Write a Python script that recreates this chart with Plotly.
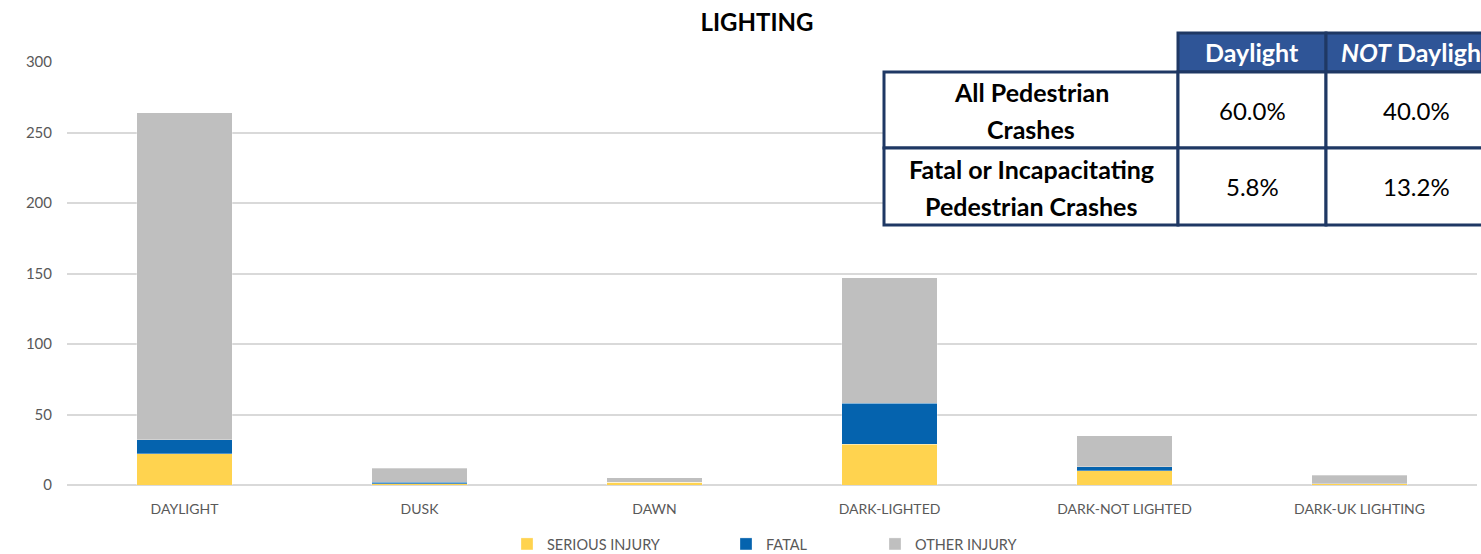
import plotly.graph_objects as go

categories = ["DAYLIGHT", "DUSK", "DAWN", "DARK-LIGHTED", "DARK-NOT LIGHTED", "DARK-UK LIGHTING"]
serious_injury = [22, 1, 2, 29, 10, 1]
fatal = [10, 1, 0, 29, 3, 0]
other_injury = [232, 10, 3, 89, 22, 6]

table_cols = ["Daylight", "<i>NOT</i> Daylight"]
table_rows = [["All Pedestrian", "Crashes"], ["Fatal or Incapacitating", "Pedestrian Crashes"]]
table_vals = [["60.0%", "40.0%"], ["5.8%", "13.2%"]]

OFF = 0  # page body margin removed by post_script
W, H = 1481, 554
# plot area in screen pixels: x 67..1477, y 62..485
SX0, SX1, SY0, SY1 = 67, 1477, 62, 485
L = SX0 - OFF
R = W - (SX1 - OFF)
T = SY0 - OFF
B = H - (SY1 - OFF)
PW = W - L - R
PH = H - T - B

def px(x):
    return (x - OFF - L) / PW

def py(y):
    return (H - B - (y - OFF)) / PH

FONT = "Lato, 'Open Sans', sans-serif"
GRAY_TXT = "#595959"

fig = go.Figure()
series = [
    ("SERIOUS INJURY", serious_injury, "#FFD34F", "legend"),
    ("FATAL", fatal, "#0563AE", "legend2"),
    ("OTHER INJURY", other_injury, "#BFBFBF", "legend3"),
]
for name, vals, color, lg in series:
    fig.add_trace(go.Bar(
        x=categories, y=vals, name=name, legend=lg,
        marker=dict(color=color, line=dict(color="rgba(255,255,255,0.6)", width=0.5)),
    ))

shapes = []
annotations = []
NAVY = "#1F3864"
HEAD = "#2F5597"

# white backdrop of the table
shapes.append(dict(type="rect", xref="paper", yref="paper", x0=px(884), x1=px(1520),
                   y0=py(225), y1=py(33), fillcolor="white", line=dict(width=0), layer="above"))
col_edges = [884, 1178, 1326, 1506]
row_edges = [72, 148, 225]
# header cells
for i in range(2):
    shapes.append(dict(type="rect", xref="paper", yref="paper",
                       x0=px(col_edges[i + 1]), x1=px(col_edges[i + 2]),
                       y0=py(72), y1=py(33), fillcolor=HEAD,
                       line=dict(color=NAVY, width=3), layer="above"))
    annotations.append(dict(xref="paper", yref="paper", xanchor="center", yanchor="middle",
                            x=px((col_edges[i + 1] + col_edges[i + 2]) / 2), y=py(52),
                            text="<b>" + table_cols[i] + "</b>", showarrow=False,
                            font=dict(family=FONT, size=25, color="white")))
# body cells
for r in range(2):
    for c in range(3):
        shapes.append(dict(type="rect", xref="paper", yref="paper",
                           x0=px(col_edges[c]), x1=px(col_edges[c + 1]),
                           y0=py(row_edges[r + 1]), y1=py(row_edges[r]),
                           fillcolor="white", line=dict(color=NAVY, width=3), layer="above"))
    cy = (row_edges[r] + row_edges[r + 1]) / 2
    for k, line in enumerate(table_rows[r]):
        annotations.append(dict(xref="paper", yref="paper", xanchor="center", yanchor="middle",
                                x=px(1031), y=py(cy - 18 + 37 * k),
                                text="<b>" + line + "</b>", showarrow=False,
                                font=dict(family=FONT, size=25, color="black")))
    for c in range(2):
        annotations.append(dict(xref="paper", yref="paper", xanchor="center", yanchor="middle",
                                x=px((col_edges[c + 1] + col_edges[c + 2]) / 2), y=py(cy),
                                text=table_vals[r][c], showarrow=False,
                                font=dict(family=FONT, size=24, color="black")))

leg_common = dict(orientation="h", xanchor="left", yanchor="middle", y=py(544),
                  font=dict(family=FONT, size=14.5, color=GRAY_TXT), bgcolor="rgba(0,0,0,0)",
                  itemwidth=30, traceorder="normal")

fig.update_layout(
    width=W, height=H,
    margin=dict(l=L, r=R, t=T, b=B, autoexpand=False),
    barmode="stack", bargap=0.595,
    plot_bgcolor="white", paper_bgcolor="white",
    font=dict(family=FONT, size=14, color=GRAY_TXT),
    title=dict(text="<b>LIGHTING</b>", x=(757 - OFF) / W, xanchor="center",
               y=1 - (23 - OFF) / H, yanchor="middle",
               xref="container", yref="container",
               font=dict(family=FONT, size=24, color="black")),
    xaxis=dict(showgrid=False, showline=False, ticks="", tickfont=dict(size=14, color=GRAY_TXT),
               ticklabelstandoff=14),
    yaxis=dict(range=[0, 300], dtick=50, showgrid=True, gridcolor="#D9D9D9", gridwidth=1.5,
               zeroline=True, zerolinecolor="#D9D9D9", zerolinewidth=1.5, showline=False,
               tickfont=dict(size=15, color=GRAY_TXT), ticklabelstandoff=14),
    legend=dict(x=px(507), **leg_common),
    legend2=dict(x=px(726), **leg_common),
    legend3=dict(x=px(875), **leg_common),
    shapes=shapes,
    annotations=annotations,
    showlegend=True,
)

fig.write_html(
    "out.html",
    config={"displayModeBar": False},
    post_script="document.body.style.margin='0';document.body.style.overflow='hidden';",
)
